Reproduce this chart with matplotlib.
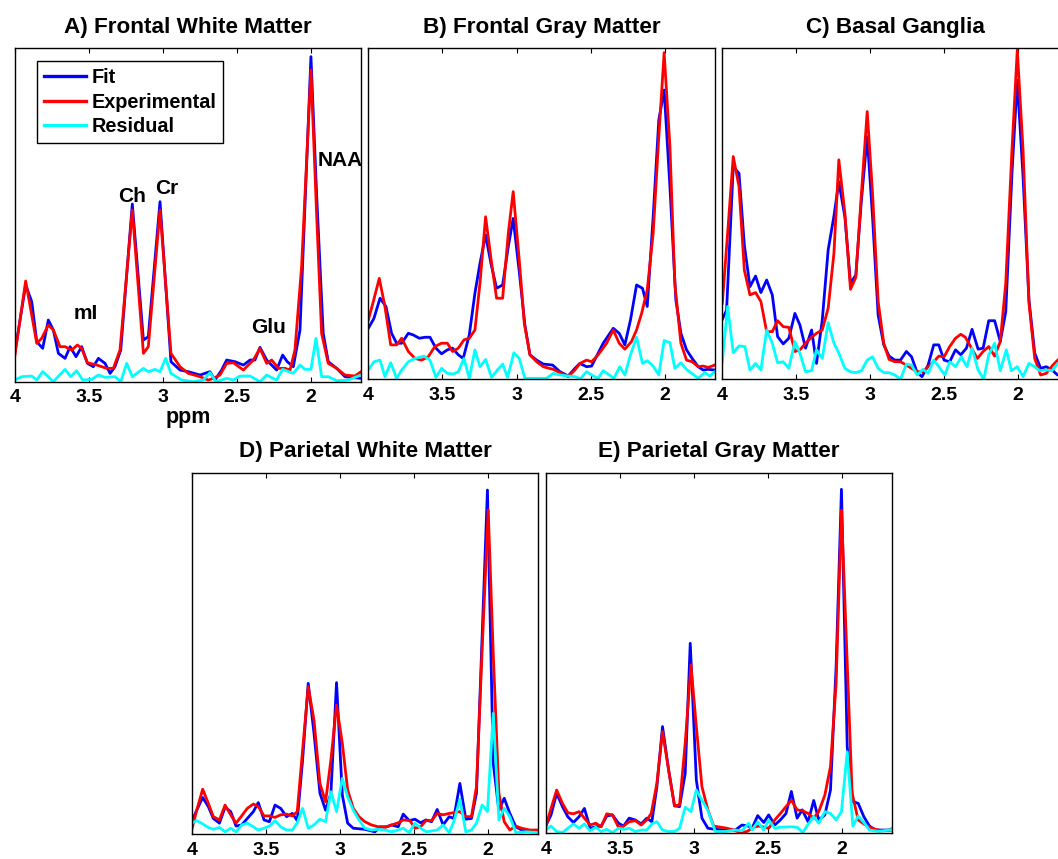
import matplotlib
matplotlib.use("Agg")
import matplotlib.pyplot as plt

plt.rcParams['font.family'] = ['Liberation Sans', 'DejaVu Sans']
plt.rcParams['font.weight'] = 'bold'

# ---------------- data (ppm positions, intensity in % of panel height) -------------
# Panel A: Frontal White Matter
ppm_fit_A = [4.0, 3.926, 3.885, 3.851, 3.811, 3.773, 3.739, 3.705, 3.66, 3.626, 3.586, 3.548, 3.509, 3.469,
             3.435, 3.39, 3.356, 3.323, 3.284, 3.206, 3.131, 3.098, 3.019, 2.945, 2.884, 2.828, 2.749, 2.682,
             2.648, 2.603, 2.569, 2.513, 2.456, 2.411, 2.378, 2.344, 2.299, 2.232, 2.191, 2.16, 2.119, 2.074,
             2.0, 1.961, 1.917, 1.883, 1.826, 1.77, 1.662]
fit_A = [8.5, 29, 24, 12, 10, 18.5, 15.5, 8.5, 7, 10.5, 7.5, 10.5, 5.5, 4.5, 7, 5.5, 2.5, 4.5, 9.5, 53.3,
         12.5, 13.5, 54, 6, 3.5, 3, 2, 3, 0.5, 3.5, 6.5, 6, 5, 6.5, 6.5, 10.3, 6.5, 3.5, 8, 6, 4.5, 15.5,
         97.5, 55.5, 14.5, 6, 4, 1.5, 1]
ppm_exp_A = [4.0, 3.926, 3.851, 3.818, 3.773, 3.739, 3.694, 3.66, 3.615, 3.577, 3.548, 3.509, 3.446, 3.379,
             3.334, 3.289, 3.206, 3.131, 3.098, 3.019, 2.945, 2.884, 2.828, 2.749, 2.693, 2.659, 2.614, 2.569,
             2.524, 2.456, 2.389, 2.344, 2.299, 2.265, 2.22, 2.175, 2.141, 2.108, 2.063, 2.0, 1.961, 1.928,
             1.883, 1.826, 1.77, 1.703, 1.662]
exp_A = [7.5, 30.2, 11.5, 13, 17, 15.5, 10.5, 10.5, 9.5, 11, 10, 5.7, 5, 4, 4, 9.5, 51.5, 8.5, 10.5, 51.5,
         8.5, 4.5, 2.5, 1.5, 0.5, 1, 2, 5.5, 5.7, 3.5, 6.5, 10, 5.5, 6.5, 4, 4, 3.5, 9.5, 34.5, 93.5, 49.5,
         14.5, 5.5, 4, 2, 1.7, 3]
ppm_res_A = [4.0, 3.953, 3.885, 3.851, 3.811, 3.773, 3.739, 3.66, 3.622, 3.582, 3.541, 3.48, 3.435, 3.39,
             3.323, 3.284, 3.244, 3.206, 3.131, 3.098, 3.053, 3.019, 2.981, 2.945, 2.873, 2.794, 2.727, 2.682,
             2.641, 2.569, 2.524, 2.479, 2.411, 2.344, 2.299, 2.232, 2.191, 2.119, 2.074, 2.04, 2.0, 1.966,
             1.928, 1.883, 1.826, 1.748, 1.662]
res_A = [0.5, 1.5, 1.7, 0.5, 3, 1.5, 0, 3.7, 1.5, 3.3, 0.5, 0.7, 2, 1.3, 1.5, 0, 5.5, 1.5, 4, 3, 3.7, 3, 7,
         2.5, 0.5, 0, 0.5, 2.7, 0, 1, 0.5, 1.7, 1.7, 0, 2, 0.5, 3.7, 2.5, 5, 3.7, 3.7, 13, 1.5, 1.5, 0.3,
         0.5, 2]

# Panel B: Frontal Gray Matter
ppm_fit_B = [4.0, 3.962, 3.921, 3.881, 3.843, 3.809, 3.775, 3.73, 3.697, 3.656, 3.618, 3.584, 3.544, 3.506,
             3.467, 3.432, 3.393, 3.36, 3.319, 3.281, 3.247, 3.209, 3.173, 3.135, 3.094, 3.056, 3.023, 2.982,
             2.944, 2.91, 2.865, 2.82, 2.757, 2.708, 2.652, 2.607, 2.573, 2.528, 2.494, 2.45, 2.416, 2.348,
             2.308, 2.27, 2.232, 2.191, 2.151, 2.119, 2.079, 2.041, 2.005, 1.966, 1.926, 1.892, 1.854, 1.816,
             1.775, 1.742, 1.708, 1.663]
fit_B = [15.4, 18.4, 24.5, 22, 13.9, 10.9, 10.9, 13.9, 13.4, 12.4, 12.7, 12.7, 9.4, 7.7, 8.9, 9.4, 7.4, 6.3,
         13.4, 26, 35, 43.6, 35, 27.5, 28.5, 40.1, 48.6, 32.5, 16.4, 7.4, 5.8, 4.6, 4.3, 2.3, 1, 3.3, 4.8,
         3.8, 4, 7.9, 10.9, 15.4, 13.9, 10.4, 17.9, 28.5, 27.5, 22, 49.1, 78.3, 87.4, 58.2, 24, 13.9, 8.9,
         6.3, 3.8, 2.8, 3, 2.8]
ppm_exp_B = [4.0, 3.966, 3.926, 3.888, 3.849, 3.809, 3.775, 3.73, 3.685, 3.64, 3.596, 3.551, 3.506, 3.467,
             3.432, 3.393, 3.355, 3.319, 3.281, 3.247, 3.209, 3.173, 3.135, 3.094, 3.056, 3.023, 2.982, 2.948,
             2.91, 2.865, 2.82, 2.753, 2.708, 2.652, 2.607, 2.573, 2.528, 2.494, 2.45, 2.393, 2.348, 2.308,
             2.27, 2.225, 2.191, 2.157, 2.119, 2.079, 2.041, 2.005, 1.966, 1.933, 1.892, 1.854, 1.816, 1.775,
             1.742, 1.708, 1.663]
exp_B = [17.9, 23.5, 30.5, 22, 10.4, 10.4, 12.4, 8.4, 6.3, 5.8, 6.8, 9.9, 10.9, 10.9, 8.4, 9.4, 11.9, 12.4,
         14.9, 29, 49.1, 36.6, 24.5, 24.5, 44.1, 56.7, 36, 16.9, 7.4, 5.3, 3.8, 3, 2, 0.8, 2.8, 4.8, 5.8,
         5.3, 7.4, 10.9, 14.9, 10.9, 9.1, 11.4, 14.9, 19.9, 27, 44.1, 73.3, 98.7, 70.3, 29, 10.9, 5.8, 5.3,
         3.8, 4, 3.6, 4.3]
ppm_res_B = [4.0, 3.962, 3.921, 3.888, 3.849, 3.809, 3.775, 3.73, 3.685, 3.625, 3.584, 3.544, 3.506, 3.467,
             3.427, 3.393, 3.355, 3.319, 3.281, 3.247, 3.209, 3.169, 3.13, 3.094, 3.061, 3.018, 2.982, 2.944,
             2.865, 2.798, 2.753, 2.708, 2.652, 2.607, 2.569, 2.528, 2.483, 2.45, 2.416, 2.344, 2.304, 2.27,
             2.232, 2.191, 2.151, 2.119, 2.079, 2.041, 2.005, 1.966, 1.933, 1.892, 1.854, 1.775, 1.731, 1.697,
             1.663]
res_B = [2.8, 5.3, 5.8, 0.8, 5, 0.3, 2.8, 5.3, 6.3, 7, 5.8, 0.6, 3.3, 1.8, 1.6, 2.3, 6.3, 0.3, 8.9, 3.8, 6,
         0.6, 2.8, 4.6, 0.6, 8, 6.3, 0.3, 0.3, 0.3, 1.8, 1.3, 1, 0.8, 0.2, 2.3, 1, 0.3, 2.6, 0.3, 3.8, 1.3,
         7.4, 12.7, 4.8, 5.6, 4, 1.3, 11.7, 11.1, 3.3, 5, 3, 0.3, 2, 1, 2.3]

# Panel C: Basal Ganglia
ppm_fit_C = [4.0, 3.971, 3.926, 3.887, 3.851, 3.813, 3.775, 3.739, 3.7, 3.662, 3.626, 3.588, 3.55, 3.509,
             3.475, 3.437, 3.396, 3.363, 3.324, 3.284, 3.245, 3.212, 3.171, 3.133, 3.097, 3.059, 3.02, 2.984,
             2.946, 2.908, 2.872, 2.833, 2.795, 2.755, 2.72, 2.682, 2.649, 2.608, 2.57, 2.536, 2.5, 2.462,
             2.423, 2.387, 2.349, 2.311, 2.27, 2.236, 2.198, 2.158, 2.12, 2.083, 2.041, 2.005, 1.966, 1.926,
             1.887, 1.847, 1.809, 1.77, 1.732, 1.695, 1.66]
fit_C = [18.1, 20.9, 64.3, 62.2, 40.6, 28, 31.2, 26.2, 30, 25.5, 12.9, 10.7, 12.4, 19.9, 16.4, 9.4, 14.9,
         4.8, 17.9, 39.1, 49.3, 59.7, 49.1, 29, 31.5, 54.2, 73.3, 49.1, 19.4, 10.4, 7, 5.8, 5.8, 8.4, 6.8,
         2, 0.8, 4.3, 10.4, 10.4, 5.8, 5.3, 8.9, 7.4, 9.4, 15.1, 9.1, 9.4, 17.7, 17.7, 11.4, 20.4, 62.2,
         90.4, 61.2, 24, 7.9, 3.3, 3.8, 2.8, 1.3, 1, 1]
ppm_exp_C = [4.0, 3.964, 3.926, 3.887, 3.851, 3.813, 3.775, 3.739, 3.7, 3.662, 3.626, 3.588, 3.55, 3.509,
             3.475, 3.437, 3.396, 3.363, 3.324, 3.284, 3.245, 3.212, 3.171, 3.133, 3.097, 3.059, 3.02, 2.984,
             2.946, 2.908, 2.872, 2.833, 2.795, 2.755, 2.72, 2.682, 2.642, 2.608, 2.57, 2.536, 2.5, 2.462,
             2.423, 2.387, 2.356, 2.327, 2.275, 2.236, 2.198, 2.158, 2.12, 2.083, 2.041, 2.005, 1.966, 1.926,
             1.887, 1.847, 1.809, 1.77, 1.732, 1.695, 1.66]
exp_C = [23, 44.1, 67.3, 58.2, 33, 25.5, 26.2, 23.5, 14.4, 14.4, 17.7, 15.9, 15.7, 8.4, 8.9, 10.9, 12.7,
         13.9, 14.9, 21.5, 38.1, 66.3, 50.2, 27.2, 30.8, 56.2, 80.9, 56.2, 23.5, 10.9, 6, 5.3, 5.3, 4.3,
         3.3, 2.3, 2.3, 3.8, 5.3, 7, 6.8, 9.9, 12.4, 13.6, 12.7, 10.4, 6.3, 8.4, 9.9, 7, 11.4, 29, 69.3,
         99.5, 69.3, 23, 6.3, 1.3, 1.8, 4, 5.8, 7, 8]
ppm_res_C = [4.0, 3.964, 3.926, 3.887, 3.847, 3.813, 3.775, 3.739, 3.7, 3.662, 3.626, 3.588, 3.55, 3.509,
             3.475, 3.437, 3.396, 3.363, 3.324, 3.284, 3.245, 3.212, 3.171, 3.133, 3.097, 3.059, 3.02, 2.984,
             2.946, 2.908, 2.872, 2.833, 2.795, 2.755, 2.72, 2.682, 2.642, 2.608, 2.57, 2.536, 2.495, 2.462,
             2.423, 2.383, 2.345, 2.311, 2.27, 2.232, 2.198, 2.158, 2.12, 2.079, 2.045, 2.005, 1.966, 1.926,
             1.887, 1.854, 1.809, 1.77, 1.732, 1.695, 1.66]
res_C = [5.3, 22, 8, 10.1, 9.9, 2.8, 4.8, 2.8, 14.9, 10.9, 5, 5.3, 3.3, 11.4, 7.9, 2.3, 2.6, 8.9, 6.3, 17.1,
         10.9, 7.9, 3.3, 2.3, 2, 2.6, 5.8, 6.8, 3.3, 2, 2, 1.3, 0, 4.6, 4.3, 1.3, 3, 1.8, 5.8, 3.8, 1.3,
         5.3, 3.8, 6.8, 3.8, 9.4, 2.8, 0, 7.4, 10.9, 2.6, 8.9, 2.6, 3.8, 0.8, 4.8, 3.8, 2.6, 2.8, 2.6, 4.8,
         4, 3]

# Panel D: Parietal White Matter
ppm_fit_D = [4.0, 3.966, 3.926, 3.888, 3.854, 3.813, 3.775, 3.737, 3.701, 3.663, 3.625, 3.584, 3.551, 3.512,
             3.476, 3.438, 3.4, 3.36, 3.321, 3.288, 3.252, 3.214, 3.175, 3.135, 3.097, 3.061, 3.023, 2.984,
             2.948, 2.91, 2.832, 2.764, 2.73, 2.685, 2.652, 2.607, 2.573, 2.533, 2.494, 2.456, 2.42, 2.382,
             2.344, 2.304, 2.263, 2.232, 2.191, 2.151, 2.113, 2.079, 2.041, 2.005, 1.966, 1.928, 1.892, 1.854,
             1.814, 1.775, 1.663]
fit_D = [3.4, 6.6, 10.1, 7.6, 4.3, 3, 7.4, 6.2, 2.2, 2.5, 4.3, 6.2, 8.7, 3.9, 3.4, 8, 7.1, 4.8, 5.7, 3.7,
         20.5, 41.7, 27.9, 11.3, 6.6, 11.3, 41.9, 10.8, 3, 1.6, 1.3, 0.6, 2, 2, 2.5, 2, 5.5, 3.7, 4.1, 3.1,
         3.9, 3.4, 6.8, 2.5, 4.8, 4.3, 14, 4.1, 4.3, 11.3, 54.6, 95.2, 19.6, 6.6, 9.9, 5.7, 2, 1.1, 0.6]
ppm_exp_D = [4.0, 3.966, 3.926, 3.888, 3.854, 3.813, 3.775, 3.737, 3.701, 3.663, 3.625, 3.584, 3.551, 3.512,
             3.476, 3.438, 3.4, 3.36, 3.321, 3.288, 3.252, 3.214, 3.175, 3.135, 3.097, 3.061, 3.023, 2.984,
             2.948, 2.91, 2.872, 2.832, 2.787, 2.742, 2.697, 2.652, 2.607, 2.573, 2.528, 2.494, 2.456, 2.42,
             2.382, 2.344, 2.304, 2.263, 2.232, 2.191, 2.151, 2.113, 2.079, 2.041, 2.0, 1.966, 1.928, 1.892,
             1.854, 1.814, 1.775, 1.719, 1.663]
exp_D = [1.1, 6.6, 12.4, 8.5, 4.8, 3.9, 8, 5.3, 3, 5, 7.1, 8.3, 7.6, 5, 5, 4.6, 5.3, 5.5, 5, 6.2, 23.2,
         40.8, 31.5, 14, 8.9, 20.5, 35.7, 25.1, 12.2, 7.1, 4.8, 3.4, 2.5, 2, 1.8, 2.5, 3.1, 3.9, 3.7, 1.6,
         2, 3.7, 3.7, 5.7, 5.3, 5.7, 5.9, 6.2, 4.8, 4.8, 13.1, 50.9, 89.7, 50, 11.3, 3.4, 1.1, 2.2, 1.6,
         1.1, 1.1]
ppm_res_D = [4.0, 3.966, 3.926, 3.888, 3.854, 3.813, 3.775, 3.737, 3.701, 3.663, 3.625, 3.584, 3.551, 3.512,
             3.476, 3.438, 3.4, 3.36, 3.321, 3.288, 3.252, 3.214, 3.175, 3.135, 3.097, 3.061, 3.023, 2.984,
             2.948, 2.91, 2.872, 2.832, 2.787, 2.742, 2.697, 2.652, 2.607, 2.573, 2.533, 2.494, 2.456, 2.416,
             2.344, 2.304, 2.263, 2.232, 2.191, 2.151, 2.113, 2.079, 2.041, 2.005, 1.966, 1.928, 1.892, 1.854,
             1.814, 1.742, 1.663]
res_D = [3, 3.7, 2.8, 1.8, 1.3, 1.8, 0.6, 1.6, 0.6, 2.5, 3, 2, 1.1, 1.6, 2.2, 3.7, 2, 1.1, 1.1, 3.1, 7.1,
         1.6, 2.5, 4.1, 3.4, 11.7, 6.2, 15.4, 10.3, 6.6, 3.9, 1.6, 1.1, 1.3, 1.1, 0.6, 1.1, 1.6, 0.4, 3,
         1.6, 0.6, 1.1, 2.5, 0.4, 3.4, 9.6, 0.6, 1.1, 3, 8, 6.2, 33.4, 3.9, 7.1, 4.8, 0.4, 0.6, 0.4]

# Panel E: Parietal Gray Matter
ppm_fit_E = [4.0, 3.964, 3.926, 3.887, 3.851, 3.813, 3.775, 3.739, 3.7, 3.662, 3.626, 3.588, 3.55, 3.509,
             3.475, 3.437, 3.396, 3.356, 3.318, 3.284, 3.25, 3.212, 3.171, 3.131, 3.097, 3.059, 3.025, 2.984,
             2.946, 2.906, 2.856, 2.788, 2.721, 2.676, 2.631, 2.608, 2.57, 2.529, 2.496, 2.455, 2.417, 2.379,
             2.343, 2.304, 2.27, 2.23, 2.192, 2.158, 2.117, 2.079, 2.041, 2.005, 1.966, 1.928, 1.892, 1.854,
             1.816, 1.775, 1.658]
fit_E = [2, 5.1, 11.1, 7.4, 4.6, 3, 4.6, 6.9, 1.4, 1.8, 2, 4.8, 5.1, 2.8, 2, 4.2, 3.7, 2.6, 4.2, 3.2, 12.9,
         29.6, 17.6, 7.6, 7.4, 16.6, 52.7, 14.8, 4.2, 1.4, 1.1, 0.9, 0.9, 2.3, 2, 1.4, 4.9, 3, 5.1, 2.3,
         3.7, 5.5, 11.6, 4.2, 6.5, 3.2, 9.1, 3.7, 5.1, 12, 46.2, 95.4, 24, 8.8, 8.3, 4.6, 2, 0.9, 0.9]
ppm_exp_E = [4.0, 3.964, 3.926, 3.887, 3.851, 3.813, 3.775, 3.739, 3.7, 3.662, 3.626, 3.588, 3.55, 3.509,
             3.475, 3.437, 3.396, 3.356, 3.318, 3.288, 3.25, 3.212, 3.171, 3.131, 3.097, 3.059, 3.02, 2.984,
             2.946, 2.906, 2.867, 2.822, 2.777, 2.732, 2.687, 2.642, 2.597, 2.563, 2.529, 2.496, 2.455, 2.417,
             2.379, 2.343, 2.304, 2.27, 2.23, 2.192, 2.158, 2.117, 2.079, 2.041, 2.005, 1.966, 1.933, 1.892,
             1.854, 1.816, 1.775, 1.73, 1.685, 1.658]
exp_E = [1.8, 6.9, 12, 8.3, 5.7, 5.4, 6, 4.2, 2.3, 2.8, 1.8, 5.4, 5.1, 1.7, 2, 3.2, 3.5, 2.3, 3.7, 5.5,
         13.9, 28.2, 17.6, 7.6, 7.9, 25, 46.7, 29.6, 12.9, 6.5, 2, 1.7, 1.4, 0.9, 0.2, 0.5, 1.7, 2, 1.7,
         1.4, 3.7, 5.5, 7.4, 9.2, 6.5, 6.3, 5.5, 4.2, 6, 10.6, 18.5, 41.6, 89.6, 47.1, 11.1, 3.7, 2.6, 1.7,
         1.1, 0.7, 0.9, 1.4]
ppm_res_E = [4.0, 3.964, 3.926, 3.887, 3.851, 3.813, 3.775, 3.739, 3.7, 3.662, 3.626, 3.588, 3.55, 3.509,
             3.475, 3.437, 3.396, 3.356, 3.318, 3.284, 3.25, 3.212, 3.171, 3.131, 3.097, 3.059, 3.02, 2.984,
             2.946, 2.906, 2.856, 2.788, 2.721, 2.676, 2.631, 2.608, 2.57, 2.529, 2.496, 2.455, 2.417, 2.343,
             2.304, 2.266, 2.225, 2.192, 2.158, 2.117, 2.079, 2.041, 2.005, 1.966, 1.928, 1.892, 1.854, 1.816,
             1.752, 1.658]
res_E = [0.9, 2, 0.5, 0.2, 1.4, 2.6, 1.4, 2.6, 0.7, 1.7, 0.5, 1.1, 0.2, 1.4, 1.1, 1.4, 0.5, 0.9, 0.9, 2.6,
         3.2, 0.9, 0.5, 0.5, 1.4, 7.2, 6, 12, 9.2, 6.3, 0.5, 0.5, 0.9, 0.7, 2.8, 0.9, 3.2, 0.9, 3.7, 1.4,
         1.7, 1.8, 1.7, 0.2, 2.8, 4.6, 2.8, 6, 5.5, 3.7, 6, 22.6, 2, 4.8, 3, 0.9, 0.5, 1.1]

titles = ["A) Frontal White Matter", "B) Frontal Gray Matter", "C) Basal Ganglia",
          "D) Parietal White Matter", "E) Parietal Gray Matter"]
series_labels = ["Fit", "Experimental", "Residual"]
xticks = [4, 3.5, 3, 2.5, 2]
xtick_labels = ["4", "3.5", "3", "2.5", "2"]
peak_names = ["mI", "Ch", "Cr", "Glu", "NAA"]
peak_ppm = [3.519, 3.208, 2.972, 2.283, 1.804]
peak_level = [20.4, 55.4, 57.8, 16.2, 66.2]

panels = [
    (ppm_fit_A, fit_A, ppm_exp_A, exp_A, ppm_res_A, res_A),
    (ppm_fit_B, fit_B, ppm_exp_B, exp_B, ppm_res_B, res_B),
    (ppm_fit_C, fit_C, ppm_exp_C, exp_C, ppm_res_C, res_C),
    (ppm_fit_D, fit_D, ppm_exp_D, exp_D, ppm_res_D, res_D),
    (ppm_fit_E, fit_E, ppm_exp_E, exp_E, ppm_res_E, res_E),
]

# ---------------- layout -------------
W, H = 1058, 859
# (left, top, right, bottom) in pixels
boxes = [
    (14.7, 48.3, 361.0, 381.7),
    (368.3, 48.3, 715.0, 379.3),
    (722.3, 48.3, 1068.0, 379.3),
    (191.7, 472.7, 538.3, 834.0),
    (545.7, 472.7, 892.3, 833.3),
]
colors = ["#0000ff", "#ff0000", "#00ffff"]

fig = plt.figure(figsize=(W / 100, H / 100), dpi=100)
axes = []
for i, (l, t, r, b) in enumerate(boxes):
    ax = fig.add_axes([l / W, 1 - b / H, (r - l) / W, (b - t) / H])
    pf, f, pe, e, pr, rr = panels[i]
    ax.plot(pf, f, color=colors[0], lw=2.0, label=series_labels[0])
    ax.plot(pe, e, color=colors[1], lw=2.0, label=series_labels[1])
    ax.plot(pr, rr, color=colors[2], lw=2.0, label=series_labels[2])
    ax.set_xlim(4, 1.662)
    ax.set_ylim(0, 100)
    ax.set_xticks(xticks)
    ax.set_xticklabels(xtick_labels)
    ax.set_yticks([])
    ax.tick_params(axis='x', direction='in', top=True, bottom=True, length=3.5, width=0.8,
                   labelsize=14, pad=5.5)
    for lab in ax.get_xticklabels():
        lab.set_fontweight('bold')
    for sp in ax.spines.values():
        sp.set_linewidth(1.0)
        sp.set_color('black')
    ax.set_title(titles[i], fontsize=16.2, fontweight='bold', pad=11)
    axes.append(ax)

axA = axes[0]
axA.set_xlabel("ppm", fontsize=15.5, fontweight='bold', labelpad=0.5)
leg = axA.legend(loc='upper left', bbox_to_anchor=(0.0644, 0.961), borderaxespad=0,
                 frameon=True, fancybox=False, framealpha=1, edgecolor='black',
                 handlelength=2.1, handletextpad=0.3, borderpad=0.35, labelspacing=0.28,
                 prop={'weight': 'bold', 'size': 14.3})
leg.get_frame().set_linewidth(1.0)
for ln in leg.get_lines():
    ln.set_linewidth(2.4)

for name, px, lv in zip(peak_names, peak_ppm, peak_level):
    axA.text(px, lv, name, fontsize=15, fontweight='bold', ha='center', va='center',
             clip_on=False)

fig.savefig("out.png", dpi=100)
